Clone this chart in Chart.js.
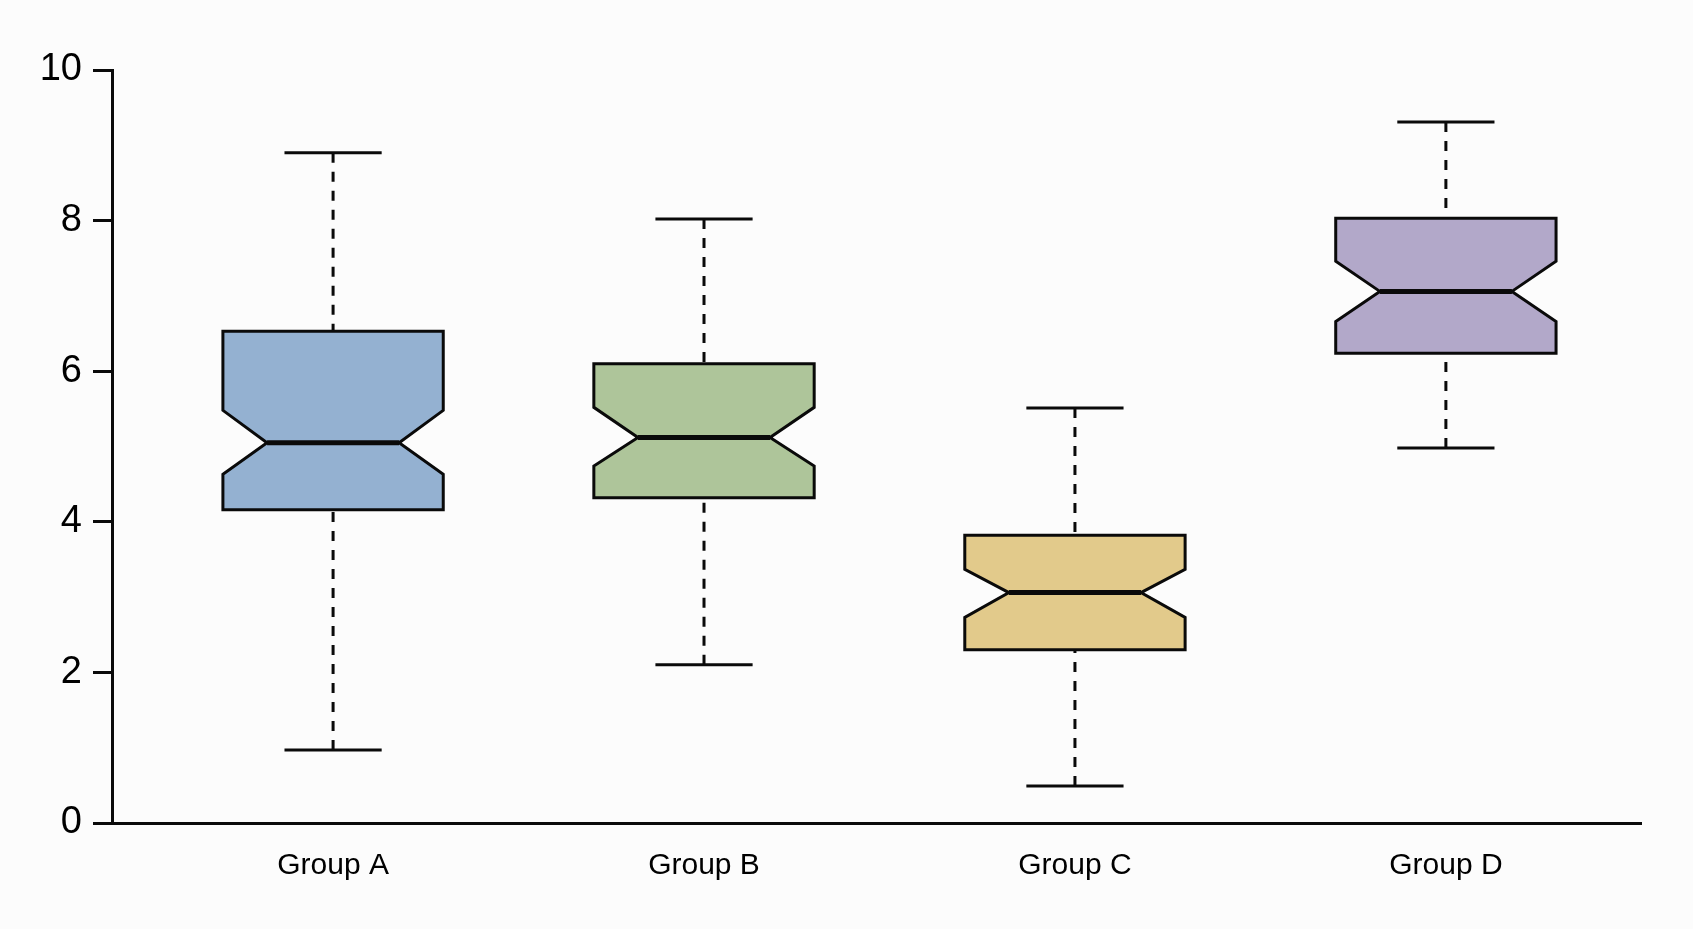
<!DOCTYPE html>
<html>
<head>
<meta charset="utf-8">
<script src="https://cdn.jsdelivr.net/npm/chart.js@4.4.1/dist/chart.umd.min.js"></script>
<style>
  html, body { margin: 0; padding: 0; background: #fcfcfc; }
  #wrap { width: 1693px; height: 929px; }
</style>
</head>
<body>
<div id="wrap"><canvas id="c" width="1693" height="929"></canvas></div>
<script>
// ---- data ----
const categories   = ["Group A", "Group B", "Group C", "Group D"];
const whiskerLow   = [0.97, 2.10, 0.49, 4.98];
const q1           = [4.16, 4.32, 2.30, 6.24];
const notchLow     = [4.63, 4.74, 2.73, 6.66];
const median       = [5.05, 5.12, 3.06, 7.06];
const notchHigh    = [5.48, 5.52, 3.37, 7.46];
const q3           = [6.53, 6.10, 3.82, 8.03];
const whiskerHigh  = [8.90, 8.02, 5.51, 9.31];
const yTicks       = [0, 2, 4, 6, 8, 10];

// ---- styles ----
const fills = ["#94b1d1", "#aec59a", "#e2ca8b", "#b2a8c9"];
const BOX_HALF = 0.297;     // in x-axis units
const NOTCH_HALF = 0.178;
const CAP_HALF = 0.131;
const INK = '#0a0a0a';

const boxPlugin = {
  id: 'notchedBoxes',
  afterDatasetsDraw(chart) {
    const ctx = chart.ctx;
    const xs = chart.scales.x, ys = chart.scales.y;
    ctx.save();
    categories.forEach((cat, i) => {
      const pos = i + 1;
      const cx = xs.getPixelForValue(pos);
      const l = xs.getPixelForValue(pos - BOX_HALF);
      const r = xs.getPixelForValue(pos + BOX_HALF);
      const nl = xs.getPixelForValue(pos - NOTCH_HALF);
      const nr = xs.getPixelForValue(pos + NOTCH_HALF);
      const cl = xs.getPixelForValue(pos - CAP_HALF);
      const cr = xs.getPixelForValue(pos + CAP_HALF);
      const yWL = ys.getPixelForValue(whiskerLow[i]);
      const yQ1 = ys.getPixelForValue(q1[i]);
      const yNL = ys.getPixelForValue(notchLow[i]);
      const yMed = ys.getPixelForValue(median[i]);
      const yNH = ys.getPixelForValue(notchHigh[i]);
      const yQ3 = ys.getPixelForValue(q3[i]);
      const yWH = ys.getPixelForValue(whiskerHigh[i]);

      ctx.strokeStyle = INK;
      // whiskers (dashed)
      ctx.lineWidth = 3;
      ctx.setLineDash([10, 9]);
      ctx.beginPath();
      ctx.moveTo(cx, yWH); ctx.lineTo(cx, yQ3);
      ctx.moveTo(cx, yWL); ctx.lineTo(cx, yQ1);
      ctx.stroke();
      ctx.setLineDash([]);
      // caps
      ctx.lineWidth = 3;
      ctx.beginPath();
      ctx.moveTo(cl, yWH); ctx.lineTo(cr, yWH);
      ctx.moveTo(cl, yWL); ctx.lineTo(cr, yWL);
      ctx.stroke();
      // notched box
      ctx.beginPath();
      ctx.moveTo(l, yQ3);
      ctx.lineTo(r, yQ3);
      ctx.lineTo(r, yNH);
      ctx.lineTo(nr, yMed);
      ctx.lineTo(r, yNL);
      ctx.lineTo(r, yQ1);
      ctx.lineTo(l, yQ1);
      ctx.lineTo(l, yNL);
      ctx.lineTo(nl, yMed);
      ctx.lineTo(l, yNH);
      ctx.closePath();
      ctx.fillStyle = fills[i];
      ctx.fill();
      ctx.lineWidth = 3;
      ctx.lineJoin = 'miter';
      ctx.stroke();
      // median
      ctx.lineWidth = 5;
      ctx.beginPath();
      ctx.moveTo(nl, yMed); ctx.lineTo(nr, yMed);
      ctx.stroke();
    });
    ctx.restore();
  }
};

const bgPlugin = {
  id: 'bg',
  beforeDraw(chart) {
    const ctx = chart.ctx;
    ctx.save();
    ctx.fillStyle = '#fcfcfc';
    ctx.fillRect(0, 0, chart.width, chart.height);
    ctx.restore();
  }
};

new Chart(document.getElementById('c'), {
  type: 'scatter',
  data: {
    datasets: [{
      data: categories.map((c, i) => ({ x: i + 1, y: median[i] })),
      pointRadius: 0,
      showLine: false
    }]
  },
  options: {
    responsive: false,
    animation: false,
    devicePixelRatio: 1,
    layout: { padding: { top: 70, right: 52, bottom: 0, left: 0 } },
    plugins: { legend: { display: false }, tooltip: { enabled: false } },
    scales: {
      x: {
        type: 'linear',
        min: 0.404,
        max: 4.526,
        afterFit(scale) { scale.height = 106; },
        afterBuildTicks(scale) { scale.ticks = categories.map((c, i) => ({ value: i + 1 })); },
        grid: { display: false, drawTicks: false },
        border: { display: true, color: INK, width: 3 },
        ticks: {
          autoSkip: false,
          maxRotation: 0,
          padding: 25,
          color: '#000',
          font: { family: '"Liberation Sans", Arial, sans-serif', size: 30 },
          callback: (v) => categories[Math.round(v) - 1] || ''
        }
      },
      y: {
        min: 0,
        max: 10,
        afterFit(scale) { scale.width = 112; },
        afterBuildTicks(scale) { scale.ticks = yTicks.map(v => ({ value: v })); },
        grid: { display: true, drawOnChartArea: false, drawTicks: true, tickLength: 19, color: INK, lineWidth: 3 },
        border: { display: true, color: INK, width: 3 },
        ticks: {
          padding: 11,
          color: '#000',
          font: { family: '"Liberation Sans", Arial, sans-serif', size: 38 },
          callback: (v) => String(v)
        }
      }
    }
  },
  plugins: [bgPlugin, boxPlugin]
});
</script>
</body>
</html>
